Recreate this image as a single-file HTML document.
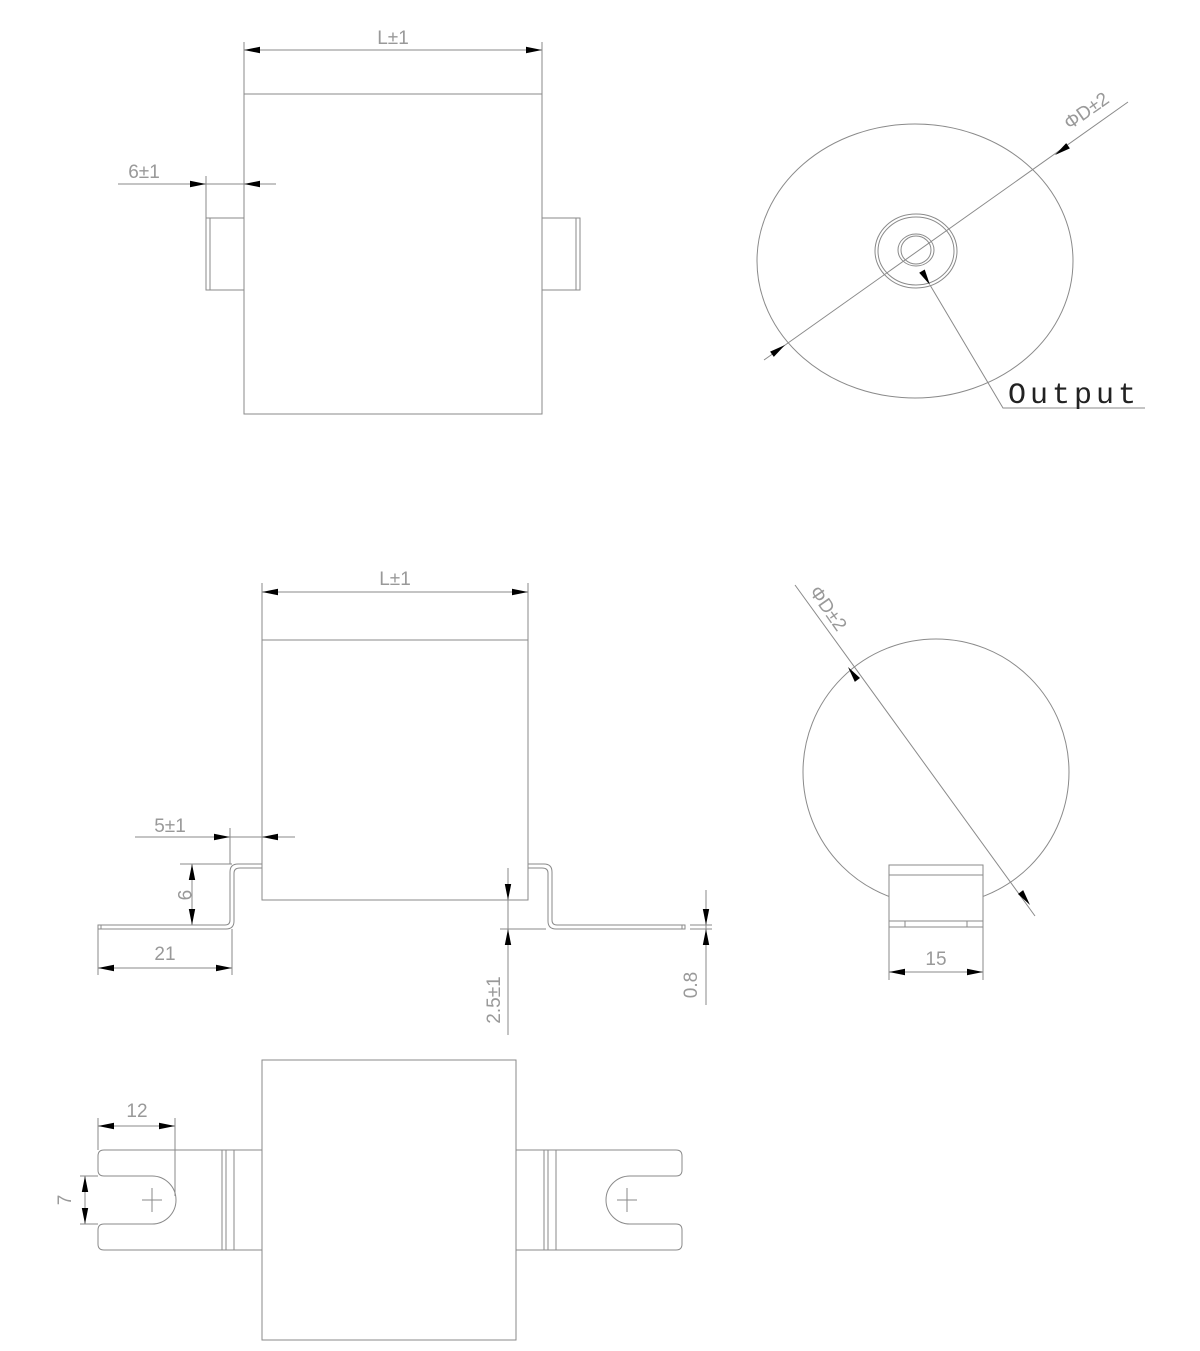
<!DOCTYPE html>
<html><head><meta charset="utf-8"><style>html,body{margin:0;padding:0;background:#fff}svg{display:block}</style></head>
<body>
<svg id="s" width="1200" height="1351" viewBox="0 0 1200 1351" xmlns="http://www.w3.org/2000/svg" fill="none" stroke="#8a8a8a" stroke-width="1" font-family="'Liberation Sans', sans-serif">
<!-- TOP LEFT -->
<rect x="244" y="94" width="298" height="320"/>
<rect x="206" y="218" width="38" height="72"/>
<line x1="210" y1="218" x2="210" y2="290"/>
<rect x="542" y="218" width="38" height="72"/>
<line x1="576" y1="218" x2="576" y2="290"/>
<line x1="244" y1="42" x2="244" y2="94"/><line x1="542" y1="42" x2="542" y2="94"/>
<line x1="244" y1="50" x2="542" y2="50"/>
<text x="393" y="44" fill="#999" stroke="none" font-size="19" text-anchor="middle">L±1</text>
<line x1="206" y1="176" x2="206" y2="218"/><line x1="244" y1="176" x2="244" y2="218"/>
<line x1="118" y1="184" x2="276" y2="184"/>
<text x="144" y="178" fill="#999" stroke="none" font-size="19" text-anchor="middle">6±1</text>
<!-- TOP RIGHT -->
<ellipse cx="915" cy="261" rx="158" ry="137"/>
<ellipse cx="916" cy="251" rx="41" ry="37"/>
<ellipse cx="916" cy="251" rx="38" ry="34"/>
<ellipse cx="916" cy="250" rx="18" ry="16"/>
<ellipse cx="916" cy="250" rx="15" ry="14"/>
<line x1="764" y1="360" x2="1128" y2="102"/>
<polyline points="930,285 1003,408 1145,408"/>
<text x="1090" y="116" fill="#999" stroke="none" font-size="19" text-anchor="middle" transform="rotate(-35 1090 116)">ΦD±2</text>
<text x="1008" y="403" fill="#222" stroke="none" font-size="30" font-family="'Liberation Mono', monospace" textLength="128">Output</text>
<!-- MIDDLE LEFT -->
<rect x="262" y="640" width="266" height="260"/>
<line x1="262" y1="583" x2="262" y2="640"/><line x1="528" y1="583" x2="528" y2="640"/>
<line x1="262" y1="592" x2="528" y2="592"/>
<text x="395" y="585" fill="#999" stroke="none" font-size="19" text-anchor="middle">L±1</text>
<path d="M262,864 H238 Q230,864 230,872 V920 Q230,925 225,925 H98 V929 H226 Q234,929 234,921 V873 Q234,868 240,868 H262"/>
<line x1="101" y1="925" x2="101" y2="929"/>
<path d="M528,864 H544 Q552,864 552,872 V920 Q552,925 557,925 H685 V929 H556 Q548,929 548,921 V873 Q548,868 542,868 H528"/>
<line x1="682" y1="925" x2="682" y2="929"/>
<line x1="230" y1="828" x2="230" y2="864"/>
<line x1="135" y1="837" x2="295" y2="837"/>
<text x="170" y="832" fill="#999" stroke="none" font-size="19" text-anchor="middle">5±1</text>
<line x1="180" y1="864" x2="232" y2="864"/>
<line x1="192" y1="864" x2="192" y2="925"/>
<text x="178" y="895" fill="#999" stroke="none" font-size="19" text-anchor="middle" transform="rotate(90 178 895)">9</text>
<line x1="98" y1="929" x2="98" y2="975"/><line x1="232" y1="929" x2="232" y2="975"/>
<line x1="98" y1="968" x2="232" y2="968"/>
<text x="165" y="960" fill="#999" stroke="none" font-size="19" text-anchor="middle">21</text>
<line x1="499" y1="900" x2="528" y2="900"/><line x1="500" y1="929" x2="546" y2="929"/>
<line x1="508" y1="868" x2="508" y2="1035"/>
<text x="500" y="1000" fill="#999" stroke="none" font-size="19" text-anchor="middle" transform="rotate(-90 500 1000)">2.5±1</text>
<line x1="690" y1="925" x2="712" y2="925"/><line x1="690" y1="929" x2="712" y2="929"/>
<line x1="706" y1="890" x2="706" y2="1005"/>
<text x="697" y="985" fill="#999" stroke="none" font-size="19" text-anchor="middle" transform="rotate(-90 697 985)">0.8</text>
<!-- MIDDLE RIGHT -->
<circle cx="936" cy="772" r="133"/>
<rect x="889" y="865" width="94" height="56" fill="#fff"/>
<line x1="889" y1="875" x2="983" y2="875"/>
<line x1="889" y1="921" x2="889" y2="927"/><line x1="983" y1="921" x2="983" y2="927"/>
<line x1="889" y1="927" x2="983" y2="927"/>
<line x1="905" y1="921" x2="905" y2="927"/><line x1="967" y1="921" x2="967" y2="927"/>
<line x1="795" y1="585" x2="1035" y2="916"/>
<text x="823" y="612" fill="#999" stroke="none" font-size="19" text-anchor="middle" transform="rotate(55 823 612)">ΦD±2</text>
<line x1="889" y1="927" x2="889" y2="980"/><line x1="983" y1="927" x2="983" y2="980"/>
<line x1="889" y1="972" x2="983" y2="972"/>
<text x="936" y="965" fill="#999" stroke="none" font-size="19" text-anchor="middle">15</text>
<!-- BOTTOM -->
<rect x="262" y="1060" width="254" height="280"/>
<path d="M262,1150 H104 Q98,1150 98,1156 V1170 Q98,1176 104,1176 H152 A24,24 0 0 1 152,1224 H104 Q98,1224 98,1230 V1244 Q98,1250 104,1250 H262"/>
<line x1="222" y1="1150" x2="222" y2="1250"/><line x1="226" y1="1150" x2="226" y2="1250"/><line x1="234" y1="1150" x2="234" y2="1250"/>
<line x1="142" y1="1200" x2="162" y2="1200"/><line x1="152" y1="1188" x2="152" y2="1212"/>
<path d="M516,1150 H676 Q682,1150 682,1156 V1170 Q682,1176 676,1176 H630 A24,24 0 0 0 630,1224 H676 Q682,1224 682,1230 V1244 Q682,1250 676,1250 H516"/>
<line x1="544" y1="1150" x2="544" y2="1250"/><line x1="548" y1="1150" x2="548" y2="1250"/><line x1="556" y1="1150" x2="556" y2="1250"/>
<line x1="617" y1="1200" x2="637" y2="1200"/><line x1="627" y1="1188" x2="627" y2="1212"/>
<line x1="98" y1="1118" x2="98" y2="1150"/><line x1="175" y1="1118" x2="175" y2="1196"/>
<line x1="98" y1="1126" x2="175" y2="1126"/>
<text x="137" y="1117" fill="#999" stroke="none" font-size="19" text-anchor="middle">12</text>
<line x1="80" y1="1176" x2="98" y2="1176"/><line x1="80" y1="1224" x2="98" y2="1224"/>
<line x1="85" y1="1176" x2="85" y2="1224"/>
<text x="71" y="1200" fill="#999" stroke="none" font-size="19" text-anchor="middle" transform="rotate(-90 71 1200)">7</text>
<g id="arr" fill="#000" stroke="none"></g>
</svg>
<script>
var A=[[244,50,1,0],[542,50,-1,0],[206,184,-1,0],[244,184,1,0],
[785,345,-1,0.71],[1055,155,1,-0.71],[930,285,-0.5,-0.86],
[262,592,1,0],[528,592,-1,0],[230,837,-1,0],[262,837,1,0],
[192,864,0,1],[192,925,0,-1],[98,968,1,0],[232,968,-1,0],
[508,900,0,-1],[508,929,0,1],[706,925,0,-1],[706,929,0,1],
[848,667,0.59,0.81],[1030,905,-0.59,-0.81],[889,972,1,0],[983,972,-1,0],
[98,1126,1,0],[175,1126,-1,0],[85,1176,0,1],[85,1224,0,-1]];
var g=document.getElementById('arr'),s='';
A.forEach(function(a){var x=a[0],y=a[1],dx=a[2],dy=a[3],l=Math.hypot(dx,dy);dx/=l;dy/=l;
var L=16,W=3.2,bx=x+dx*L,by=y+dy*L;
s+='<polygon points="'+x+','+y+' '+(bx-dy*W)+','+(by+dx*W)+' '+(bx+dy*W)+','+(by-dx*W)+'"/>';});
g.innerHTML=s;
</script>
</body></html>
